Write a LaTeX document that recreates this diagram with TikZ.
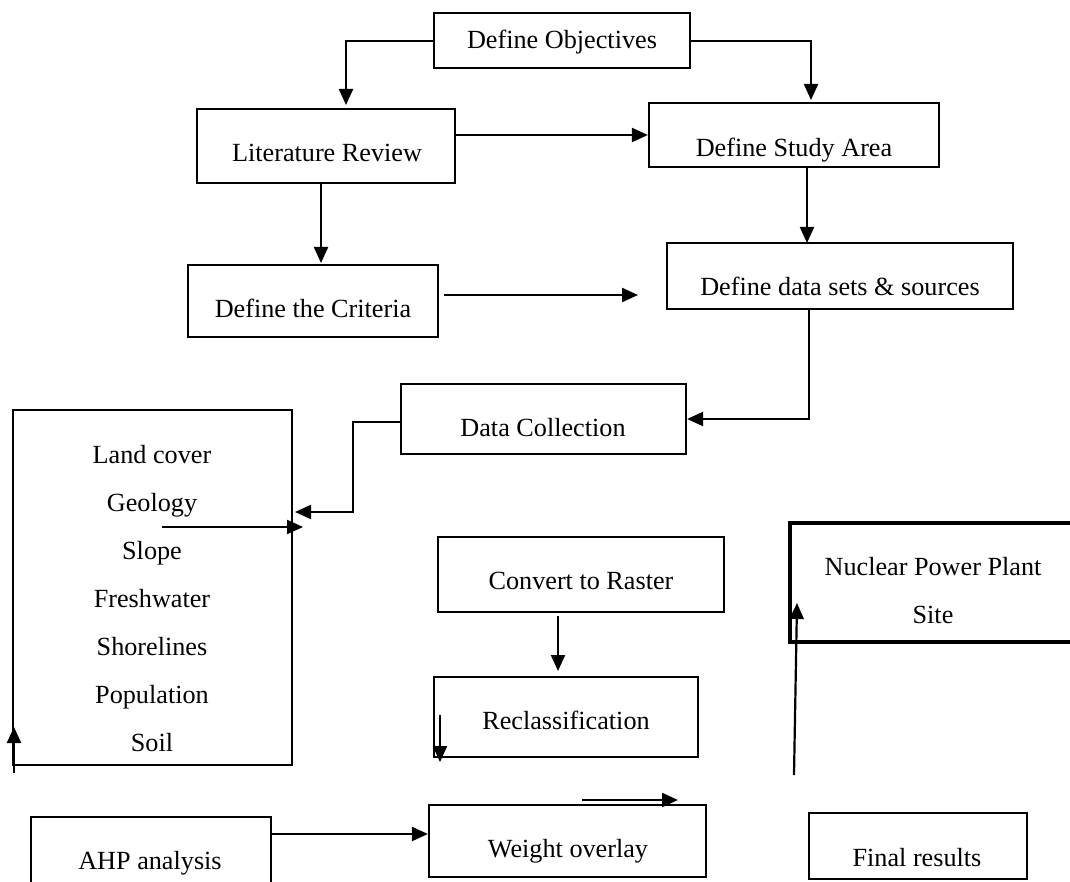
\documentclass[tikz,border=0pt]{standalone}
\usepackage{fontspec}
\setmainfont{Liberation Serif}
\usetikzlibrary{arrows.meta,fit}
\begin{document}
\begin{tikzpicture}[x=0.5pt,y=-0.5pt,
  box/.style={draw,line width=1.1pt,inner sep=0pt,fill=none},
  txt/.style={anchor=base,inner sep=0pt,font=\fontsize{13.1}{15}\selectfont},
  conn/.style={line width=1.1pt,-{Triangle[length=8pt,width=7pt]}},
  plain/.style={line width=1.1pt}]
\useasboundingbox (0,0) rectangle (1070,882);
% boxes
\node[box,fit={(434,13) (690,68)}] (obj) {};
\node[box,fit={(197,109) (455,183)}] (lit) {};
\node[box,fit={(649,103) (939,167)}] (dsa) {};
\node[box,fit={(188,265) (438,337)}] (crit) {};
\node[box,fit={(667,243) (1013,309)}] (dds) {};
\node[box,fit={(401,384) (686,454)}] (dc) {};
\node[box,fit={(13,410) (292,765)}] (land) {};
\node[box,fit={(438,537) (724,612)}] (conv) {};
\node[box,fit={(434,677) (698,757)}] (recl) {};
\node[box,fit={(429,805) (706,877)}] (wo) {};
\node[box,fit={(809,813) (1027,879)}] (fin) {};
% open boxes
\coordinate (nucTL) at (790,523);
\coordinate (nucBL) at (790,642);
\draw[line width=1.8pt] (1070,523) -- (nucTL) -- (nucBL) -- (1070,642);
\coordinate (ahpTL) at (31,817);
\coordinate (ahpTR) at (271,817);
\draw[box] (31,882) -- (ahpTL) -- (ahpTR) -- (271,882);
% texts
\node[txt] (objT) at (562,49) {Define Objectives};
\node[txt] (litT) at (327,162) {Literature Review};
\node[txt] (dsaT) at (794,157) {Define Study Area};
\node[txt] (critT) at (313,317) {Define the Criteria};
\node[txt] (ddsT) at (840,295) {Define data sets \& sources};
\node[txt] (dcT) at (543,436) {Data Collection};
\node[txt] (l1) at (152,463) {Land cover};
\node[txt] (l2) at (152,511) {Geology};
\node[txt] (l3) at (152,559) {Slope};
\node[txt] (l4) at (152,607) {Freshwater};
\node[txt] (l5) at (152,655) {Shorelines};
\node[txt] (l6) at (152,703) {Population};
\node[txt] (l7) at (152,751) {Soil};
\node[txt] (convT) at (581,589) {Convert to Raster};
\node[txt] (reclT) at (566,729) {Reclassification};
\node[txt] (nucT1) at (933,575) {Nuclear Power Plant};
\node[txt] (nucT2) at (933,623) {Site};
\node[txt] (woT) at (568,857) {Weight overlay};
\node[txt] (ahpT) at (150,869) {AHP analysis};
\node[txt] (finT) at (917,866) {Final results};
% connectors
\coordinate (litIn) at (346,105);
\draw[conn] (obj.west |- 0,41) -| (litIn);
\coordinate (dsaIn) at (811,100);
\draw[conn] (obj.east |- 0,41) -| (dsaIn);
\draw[conn] (lit.east |- 0,135) -- (dsa.west |- 0,135);
\draw[conn] (lit.south -| 321,0) -- (321,263);
\draw[conn] (dsa.south -| 807,0) -- (807,243);
\coordinate (critOut) at (444,295);
\coordinate (critTip) at (638,295);
\draw[conn] (critOut) -- (critTip);
\draw[conn] (dds.south -| 809,0) |- (dc.east |- 0,419);
\coordinate (landIn) at (295,512);
\draw[conn] (dc.west |- 0,422) -| (353,512) -- (landIn);
\coordinate (geoS) at (162,527);
\coordinate (geoE) at (303,527);
\draw[conn] (geoS) -- (geoE);
\coordinate (upS) at (14,773);
\coordinate (upE) at (14,727);
\draw[conn] (upS) -- (upE);
\draw[conn] (conv.south -| 558,0) ++(0,3) -- (558,671);
\coordinate (rdS) at (440,715);
\coordinate (rdE) at (440,762);
\draw[conn] (rdS) -- (rdE);
\coordinate (nuS) at (794,775);
\coordinate (nuE) at (797,603);
\draw[conn] (nuS) -- (nuE);
\coordinate (woS) at (582,800);
\coordinate (woE) at (678,800);
\draw[conn] (woS) -- (woE);
\draw[conn] (ahpTR |- 0,834) -- (wo.west |- 0,834);
\end{tikzpicture}
\end{document}
